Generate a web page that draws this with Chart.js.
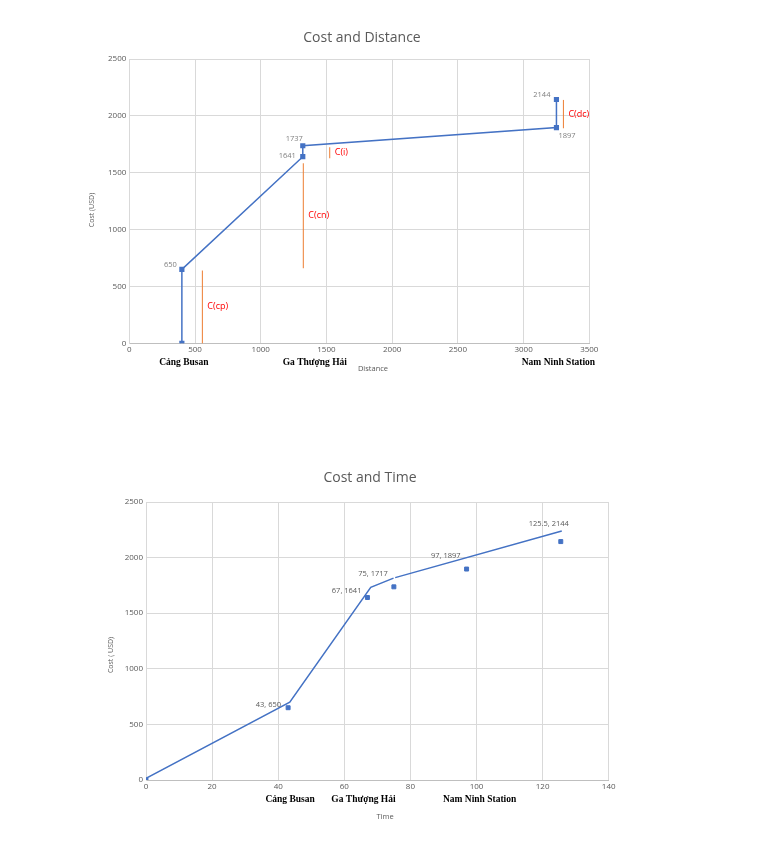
<!DOCTYPE html>
<html>
<head>
<meta charset="utf-8">
<script src="https://cdn.jsdelivr.net/npm/chart.js@4.4.1/dist/chart.umd.min.js"></script>
<style>
  html, body { margin: 0; padding: 0; background: #fff; }
  canvas { position: absolute; left: 0; }
  #distChart { top: 0; }
  #timeChart { top: 440px; }
</style>
</head>
<body>
<canvas id="distChart" width="768" height="420"></canvas>
<canvas id="timeChart" width="768" height="426"></canvas>
<script>
// stops along the route
var stops = ['Cảng Busan', 'Ga Thượng Hải', 'Nam Ninh Station'];

// Cost vs distance (each stop has a step up in cost)
var distKm = [400, 400, 1320, 1320, 3250, 3250];
var distCost = [0, 650, 1641, 1737, 1897, 2144];
var stopDist = [400, 1320, 3250];

// cost components marked beside the steps
var costParts = ['C(cp)', 'C(cn)', 'C(i)', 'C(dc)'];
var partDist = [556, 1324, 1525, 3303];
var partFrom = [0, 660, 1627, 1891];
var partTo = [640, 1583, 1724, 2140];

// Cost vs time
var timeHours = [0, 43, 67, 75, 97, 125.5];
var timeCost = [0, 650, 1641, 1737, 1897, 2144];
var timeLabels = ['', '43, 650', '67, 1641', '75, 1717', '97, 1897', '125.5, 2144'];
var stopTime = [43, 67, 97];

// hand drawn line over the time points
var lineHours = [0, 43.5, 68, 74.9, 75.1, 75.4, 125.8];
var lineCost = [15, 700, 1733, 1815, null, 1820, 2239];

var distTicks = [0, 3500, 500];
var timeTicks = [0, 140, 20];
var costTicks = [0, 2500, 500];

var BLUE = '#4472C4';
var ORANGE = '#ED7D31';
var GREY = '#595959';
var FONT = '"Open Sans", sans-serif';

function pts(xs, ys) {
    return xs.map(function (x, i) { return {x: x, y: ys[i]}; });
}

function txt(ctx, s, x, y, font, color, align, rot) {
    ctx.save();
    ctx.translate(x, y);
    if (rot) ctx.rotate(rot);
    ctx.font = font;
    ctx.fillStyle = color;
    ctx.textAlign = align || 'center';
    ctx.textBaseline = 'middle';
    ctx.fillText(s, 0, 0);
    ctx.restore();
}

function axes(xr, yr, yWidth, xHeight) {
    var tickFont = {family: FONT, size: 8};
    return {
        x: {
            type: 'linear', min: xr[0], max: xr[1],
            ticks: {stepSize: xr[2], color: GREY, font: tickFont, padding: 2, maxRotation: 0,
                    format: {useGrouping: false}},
            grid: {color: '#d9d9d9', drawTicks: false},
            border: {color: '#bfbfbf'},
            afterFit: function (s) { s.height = xHeight; }
        },
        y: {
            type: 'linear', min: yr[0], max: yr[1],
            ticks: {stepSize: yr[2], color: GREY, font: tickFont, padding: 3,
                    format: {useGrouping: false}},
            grid: {color: '#d9d9d9', drawTicks: false},
            border: {color: '#d9d9d9'},
            afterFit: function (s) { s.width = yWidth; }
        }
    };
}

// offsets for the value labels (px from the point)
var distLabelPos = [null, [-5, -5, 'right'], [-7, -1, 'right'], [0, -7, 'right'], [2, 8, 'left'], [-6, -5, 'right']];
var distStopShift = [2, 12, 2];

new Chart(document.getElementById('distChart'), {
    type: 'scatter',
    data: {
        datasets: [{
            data: pts(distKm, distCost),
            showLine: true,
            borderColor: BLUE,
            backgroundColor: BLUE,
            borderWidth: 1.5,
            pointStyle: 'rect',
            pointRadius: 2.6,
            pointHoverRadius: 2.6
        }]
    },
    options: {
        responsive: false,
        animation: false,
        layout: {padding: {top: 59, left: 0, right: 178.7, bottom: 0}},
        plugins: {legend: {display: false}, tooltip: {enabled: false}},
        scales: axes(distTicks, costTicks, 129.3, 76.7)
    },
    plugins: [{
        id: 'distExtras',
        afterDatasetsDraw: function (chart) {
            var ctx = chart.ctx, xs = chart.scales.x, ys = chart.scales.y;
            txt(ctx, 'Cost and Distance', 362, 38, '14px ' + FONT, GREY);
            txt(ctx, 'Cost (USD)', 92, 210, '7px ' + FONT, GREY, 'center', -Math.PI / 2);
            txt(ctx, 'Distance', 373, 369, '7.5px ' + FONT, GREY);
            stops.forEach(function (s, i) {
                txt(ctx, s, xs.getPixelForValue(stopDist[i]) + distStopShift[i], 363,
                    'bold 9.5px "Liberation Serif", serif', '#000');
            });
            costParts.forEach(function (s, i) {
                var px = xs.getPixelForValue(partDist[i]);
                var y0 = ys.getPixelForValue(partFrom[i]), y1 = ys.getPixelForValue(partTo[i]);
                ctx.save();
                ctx.strokeStyle = ORANGE;
                ctx.lineWidth = 1;
                ctx.beginPath();
                ctx.moveTo(px, y0);
                ctx.lineTo(px, y1);
                ctx.stroke();
                ctx.restore();
                txt(ctx, s, px + 5, (y0 + y1) / 2, '9px ' + FONT, '#FF0000', 'left');
            });
            distCost.forEach(function (c, i) {
                var p = distLabelPos[i];
                if (!p) return;
                txt(ctx, String(c), xs.getPixelForValue(distKm[i]) + p[0], ys.getPixelForValue(c) + p[1],
                    '7.5px ' + FONT, '#7f7f7f', p[2]);
            });
        }
    }]
});

var timeLabelPos = [null, [-7, -3, 'right'], [-6, -7, 'right'], [-6, -13, 'right'], [-6, -13, 'right'], [-12, -18, 'center']];
var timeStopShift = [2, -4, 13];

new Chart(document.getElementById('timeChart'), {
    type: 'scatter',
    data: {
        datasets: [{
            data: pts(lineHours, lineCost),
            showLine: true,
            spanGaps: false,
            borderColor: BLUE,
            borderWidth: 1.5,
            pointRadius: 0,
            pointHoverRadius: 0
        }, {
            data: pts(timeHours, timeCost),
            showLine: false,
            borderColor: BLUE,
            backgroundColor: BLUE,
            pointStyle: 'rect',
            pointRadius: 2.8,
            pointHoverRadius: 2.8
        }]
    },
    options: {
        responsive: false,
        animation: false,
        layout: {padding: {top: 62, left: 0, right: 159.3, bottom: 0}},
        plugins: {legend: {display: false}, tooltip: {enabled: false}},
        scales: axes(timeTicks, costTicks, 146, 86)
    },
    plugins: [{
        id: 'timeExtras',
        afterDatasetsDraw: function (chart) {
            var ctx = chart.ctx, xs = chart.scales.x, ys = chart.scales.y;
            txt(ctx, 'Cost and Time', 370, 38, '14px ' + FONT, GREY);
            txt(ctx, 'Cost ( USD)', 111, 215, '7px ' + FONT, GREY, 'center', -Math.PI / 2);
            txt(ctx, 'Time', 385, 377, '7.5px ' + FONT, GREY);
            stops.forEach(function (s, i) {
                txt(ctx, s, xs.getPixelForValue(stopTime[i]) + timeStopShift[i], 360,
                    'bold 9.5px "Liberation Serif", serif', '#000');
            });
            timeLabels.forEach(function (s, i) {
                var p = timeLabelPos[i];
                if (!p) return;
                txt(ctx, s, xs.getPixelForValue(timeHours[i]) + p[0], ys.getPixelForValue(timeCost[i]) + p[1],
                    '7.5px ' + FONT, GREY, p[2]);
            });
        }
    }]
});
</script>
</body>
</html>
